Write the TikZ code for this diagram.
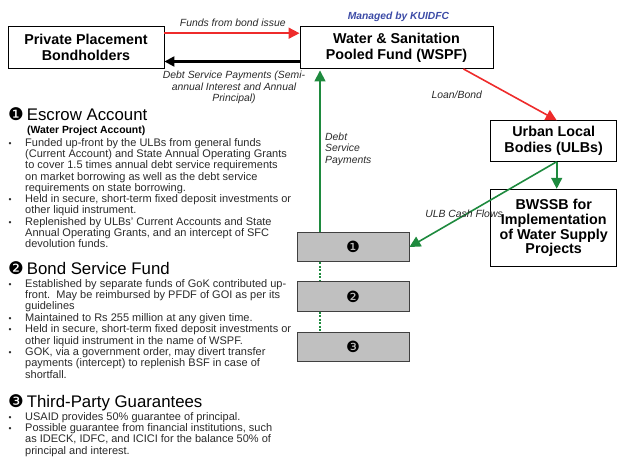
\documentclass[tikz,border=0pt]{standalone}
\usepackage{fontspec}
\setmainfont{Liberation Sans}
\newfontfamily\dingfont{DejaVu Sans}
\usetikzlibrary{arrows.meta,positioning,calc}

\definecolor{flowred}{HTML}{EE2B2B}
\definecolor{flowgreen}{HTML}{1E8A3E}
\definecolor{slotgray}{HTML}{C0C0C0}
\definecolor{kuidfcblue}{HTML}{3C4BA6}
\definecolor{labelgray}{HTML}{2A2A2A}

\tikzset{
    partybox/.style={draw,line width=0.9pt,fill=white,align=center,inner sep=0pt,
        font=\fontsize{14.3}{16}\selectfont\bfseries},
    slot/.style={draw=black!75,line width=0.9pt,fill=slotgray,minimum width=112pt,
        minimum height=29.5pt,inner sep=0pt,font=\dingfont\fontsize{15.5}{15.5}\selectfont},
    flowlabel/.style={inner sep=0pt,text=labelgray,font=\fontsize{10.4}{11.5}\selectfont\itshape},
    redflow/.style={draw=flowred,line width=1.6pt,-{Triangle[length=11pt,width=11pt]}},
    greenflow/.style={draw=flowgreen,line width=1.6pt,-{Triangle[length=11pt,width=11pt]}},
    debtflow/.style={draw=black,line width=2.2pt,-{Triangle[length=10pt,width=10pt]}},
    heading/.style={anchor=base west,inner sep=0pt,font=\fontsize{16.8}{18}\selectfont},
    subhead/.style={anchor=base west,inner sep=0pt,font=\fontsize{10.4}{12}\selectfont\bfseries},
    bodyline/.style={anchor=base west,inner sep=0pt,text=labelgray,font=\fontsize{11}{11.4}\selectfont},
    bulletdot/.style={anchor=base,inner sep=0pt,text=labelgray,font=\fontsize{8.5}{8.5}\selectfont}
}

\newcommand{\dnum}[1]{{\dingfont\fontsize{17.5}{17.5}\selectfont #1}\hspace{3pt}}

\begin{document}
\begin{tikzpicture}[x=1pt,y=-1pt]
    \useasboundingbox (0,0) rectangle (617,457);
    % Parties and boxes
    \node[partybox,minimum width=156pt,minimum height=42pt] (ppb) at (86,47.2) {Private Placement\\Bondholders};
    \node[partybox,minimum width=193pt,minimum height=42pt] (wspf) at (396.5,47.5) {Water \& Sanitation\\Pooled Fund (WSPF)};
    \node[partybox,minimum width=126pt,minimum height=40.5pt] (ulb) at (553.7,141) {Urban Local\\Bodies (ULBs)};
    \node[partybox,minimum width=126pt,minimum height=77.5pt,
        font=\fontsize{14.3}{14.7}\selectfont\bfseries] (bwssb) at (553.7,228) {BWSSB for\\Implementation\\of Water Supply\\Projects};
    \node[inner sep=0pt,text=kuidfcblue,font=\fontsize{10.3}{12}\selectfont\bfseries\itshape] (mgd) at (398.5,17.3) {Managed by KUIDFC};
    \foreach \n/\y/\g in {1/247/❶,2/296.5/❷,3/347/❸}
        \node[slot] (acct\n) at (353,\y) {\g};

    % Flows between the parties
    \draw[redflow] ([yshift=14pt]ppb.east) -- ([yshift=14pt]ppb.east -| wspf.west);
    \node[flowlabel] (fundlbl) at (232.8,22.3) {Funds from bond issue};
    \draw[debtflow] ([yshift=-14pt]wspf.west) -- ([yshift=-14pt]wspf.west -| ppb.east);
    \node[flowlabel,align=center] (dsplbl) at (234,87.6) {Debt Service Payments (Semi-\\annual Interest and Annual\\Principal)};
    \draw[greenflow,shorten >=1.5pt] ([xshift=-33pt]acct1.north) -- ([xshift=-33pt]acct1.north |- wspf.south);
    \node[flowlabel,align=left,anchor=west] (paylbl) at (325,149) {Debt\\Service\\Payments};
    \draw[redflow] ([xshift=-30pt]wspf.south east) -- ([xshift=3pt]ulb.north);
    \node[flowlabel] (loanlbl) at (456.7,94.3) {Loan/Bond};
    \draw[greenflow] ([xshift=3pt]ulb.south) -- ([xshift=3pt]ulb.south |- bwssb.north);
    \draw[greenflow] ([xshift=3pt]ulb.south) -- (acct1.east);
    \node[flowlabel] (cashlbl) at (464,213.3) {ULB Cash Flows};
    \foreach \a/\b in {1/2,2/3}
        \draw[flowgreen,line width=1.4pt,dash pattern=on 2pt off 1.5pt]
            ([xshift=-33pt]acct\a.south) -- ([xshift=-33pt]acct\a.south |- acct\b.north);

    % Escrow account
    \node[heading] (eschd) at (8,121) {\dnum{❶}Escrow Account};
    \node[subhead] (escsub) at (27,133.5) {(Water Project Account)};
    \foreach \t [count=\i] in {{Funded up-front by the ULBs from general funds},
        {(Current Account) and State Annual Operating Grants},
        {to cover 1.5 times annual debt service requirements},
        {on market borrowing as well as the debt service},
        {requirements on state borrowing.},
        {Held in secure, short-term fixed deposit investments or},
        {other liquid instrument.},
        {Replenished by ULBs' Current Accounts and State},
        {Annual Operating Grants, and an intercept of SFC},
        {devolution funds.}}
        \node[bodyline] (esc\i) at (25,{146.1+(\i-1)*11.3}) {\t};
    \foreach \i in {1,6,8}
        \node[bulletdot] (escb\i) at (10,{146.1+(\i-1)*11.3}) {•};

    % Bond service fund
    \node[heading] (bsfhd) at (8,274.3) {\dnum{❷}Bond Service Fund};
    \foreach \t [count=\i] in {{Established by separate funds of GoK contributed up-},
        {front.\ \ May be reimbursed by PFDF of GOI as per its},
        {guidelines},
        {Maintained to Rs 255 million at any given time.},
        {Held in secure, short-term fixed deposit investments or},
        {other liquid instrument in the name of WSPF.},
        {GOK, via a government order, may divert transfer},
        {payments (intercept) to replenish BSF in case of},
        {shortfall.}}
        \node[bodyline] (bsf\i) at (25,{287.1+(\i-1)*11.4}) {\t};
    \foreach \i in {1,4,5,7}
        \node[bulletdot] (bsfb\i) at (10,{287.1+(\i-1)*11.4}) {•};

    % Third-party guarantees
    \node[heading] (tpghd) at (8,407.7) {\dnum{❸}Third-Party Guarantees};
    \foreach \t [count=\i] in {{USAID provides 50\% guarantee of principal.},
        {Possible guarantee from financial institutions, such},
        {as IDECK, IDFC, and ICICI for the balance 50\% of},
        {principal and interest.}}
        \node[bodyline] (tpg\i) at (25,{420.1+(\i-1)*11.4}) {\t};
    \foreach \i in {1,2}
        \node[bulletdot] (tpgb\i) at (10,{420.1+(\i-1)*11.4}) {•};
\end{tikzpicture}
\end{document}
